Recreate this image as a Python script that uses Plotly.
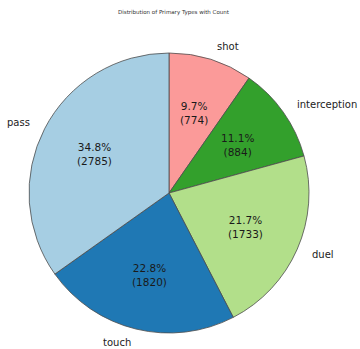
import numpy as np
import plotly.graph_objects as go

categories = ["pass", "touch", "duel", "interception", "shot"]
counts = [2785, 1820, 1733, 884, 774]
colors = ["#a6cee3", "#1f78b4", "#b2df8a", "#33a02c", "#fb9a99"]
title = "Distribution of Primary Types with Count"

W, H = 360, 349
cx, cy, R = 169, 193, 140  # pie centre / radius in pixels

# matplotlib draws counter-clockwise from 12 o'clock; same geometry = reversed order clockwise
fig = go.Figure(go.Pie(
    labels=categories[::-1], values=counts[::-1], sort=False, direction="clockwise",
    rotation=0, textinfo="none", hoverinfo="label+value+percent",
    marker=dict(colors=colors[::-1], line=dict(color="#4d4d4d", width=0.8)),
    domain=dict(x=[(cx - R) / W, (cx + R) / W], y=[1 - (cy + R) / H, 1 - (cy - R) / H]),
    showlegend=False,
))

vals = np.array(counts, dtype=float)
frac = vals / vals.sum()
ends = 90 + 360 * np.cumsum(frac)
starts = ends - 360 * frac
mids = np.deg2rad((starts + ends) / 2)

font = "DejaVu Sans, sans-serif"
ann = []
for lab, v, f, a in zip(categories, counts, frac, mids):
    c, s = np.cos(a), np.sin(a)
    lx, ly = cx + 1.1 * R * c, cy - 1.1 * R * s
    ann.append(dict(x=lx / W, y=1 - ly / H, xref="paper", yref="paper", text=lab,
                    showarrow=False, xanchor="left" if c > 0 else "right", yanchor="middle",
                    font=dict(family=font, size=10, color="#222")))
    px, py = cx + 0.6 * R * c, cy - 0.6 * R * s
    ann.append(dict(x=px / W, y=1 - py / H, xref="paper", yref="paper",
                    text=f"{f*100:.1f}%<br>({v})", showarrow=False,
                    xanchor="center", yanchor="middle", align="center",
                    font=dict(family=font, size=10.5, color="#1a1a1a")))

ann.append(dict(x=0.5 - 6 / W, y=1 - 12 / H, xref="paper", yref="paper", text=title,
                showarrow=False, xanchor="center", yanchor="middle",
                font=dict(family=font, size=5.5, color="#333")))

fig.update_layout(width=W, height=H, margin=dict(l=0, r=0, t=0, b=0),
                  paper_bgcolor="white", plot_bgcolor="white", annotations=ann)
fig.write_html("out.html")
